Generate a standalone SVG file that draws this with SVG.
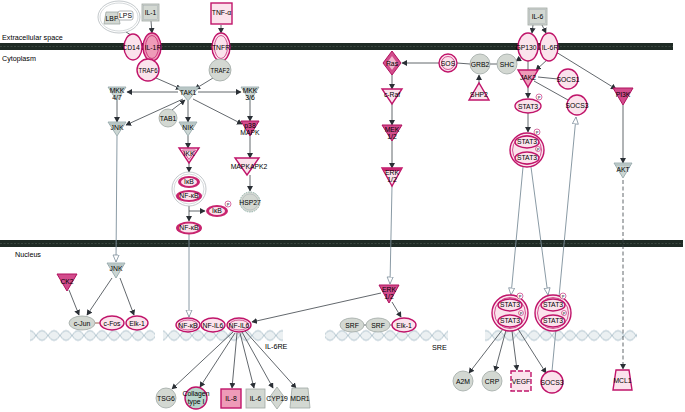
<svg xmlns="http://www.w3.org/2000/svg" width="685" height="412" viewBox="0 0 685 412">
<defs>
<style>
text{font-family:"Liberation Sans",Arial,sans-serif;font-size:6.8px;fill:#000;text-anchor:middle}
.lab{font-size:7.2px;text-anchor:start}
.m{fill:#fbe3ec;stroke:#c0146a;stroke-width:1.4}
.mi{fill:none;stroke:#c0146a;stroke-width:0.7}
.md{fill:#ee9bb8;stroke:#c0146a;stroke-width:1.4}
.mk{fill:#d24c8c;stroke:#b0105e;stroke-width:1}
.g{fill:#d3d8d2;stroke:#a0a8a4;stroke-width:0.8}
.tl{fill:#cbd6d3;stroke:#8ea2a6;stroke-width:0.8}
.band{fill:none;stroke:#8ea2a6;stroke-width:0.6}
.ring{fill:#fff;stroke:#a9b0b4;stroke-width:0.7}
.ringi{fill:none;stroke:#a9b0b4;stroke-width:0.5}
.e{fill:none;stroke:#3b4148;stroke-width:0.8}
.ea{marker-end:url(#ah)}
.eo{fill:none;stroke:#7d8e9b;stroke-width:0.9;marker-end:url(#oh)}
.mem{fill:#1f2b25}
.memi{fill:none;stroke:#4d5a52;stroke-width:0.6;stroke-dasharray:2 1.5}
.p{fill:#fff;stroke:#c0146a;stroke-width:0.6}
.pt{font-size:4px}
</style>
<marker id="ah" markerWidth="6" markerHeight="6" refX="5" refY="3" orient="auto" markerUnits="userSpaceOnUse"><path d="M0,0 L5.5,3 L0,6 z" fill="#2a2f35"/></marker>
<marker id="oh" markerWidth="9" markerHeight="8" refX="7.5" refY="3.5" orient="auto" markerUnits="userSpaceOnUse"><path d="M0.5,0.5 L7.5,3.5 L0.5,6.5 z" fill="#fff" stroke="#7d8e9b" stroke-width="0.8"/></marker>
<pattern id="dna" patternUnits="userSpaceOnUse" x="0" y="328.5" width="24" height="14">
<path d="M2 4.5v5M4 2.7v8.6M6 2v10M8 2.7v8.6M10 4.5v5M14 4.5v5M16 2.7v8.6M18 2v10M20 2.7v8.6M22 4.5v5" stroke="#bccdd4" stroke-width="0.6"/>
<path d="M0 7Q6 -3 12 7T24 7M0 7Q6 17 12 7T24 7" fill="none" stroke="#9db5c1" stroke-width="0.8"/>
</pattern>
</defs>
<rect width="685" height="412" fill="#fff"/>

<g id="compartments">
<rect class="mem" x="0" y="43" width="673" height="7"/>
<line class="memi" x1="0" y1="46.5" x2="673" y2="46.5"/>
<rect class="mem" x="0" y="240" width="683" height="7"/>
<line class="memi" x1="0" y1="243.5" x2="683" y2="243.5"/>
<text class="lab" x="2" y="40">Extracellular space</text>
<text class="lab" x="2" y="61">Cytoplasm</text>
<text class="lab" x="15" y="257">Nucleus</text>
<rect x="30" y="328.5" width="125" height="14" fill="url(#dna)"/>
<rect x="163" y="328.5" width="120" height="14" fill="url(#dna)"/>
<rect x="325" y="328.5" width="123" height="14" fill="url(#dna)"/>
<rect x="485" y="328.5" width="152" height="14" fill="url(#dna)"/>
<text class="lab" x="265" y="349">IL-6RE</text>
<text class="lab" x="432" y="350">SRE</text>
</g>

<g id="connectors">
<line class="e" x1="126" y1="32" x2="131" y2="35"/>
<line class="e ea" x1="151" y1="21" x2="152" y2="33"/>
<line class="e ea" x1="221" y1="25" x2="221" y2="33"/>
<line class="e ea" x1="156" y1="78" x2="181" y2="89"/>
<line class="e ea" x1="213" y1="78" x2="195" y2="89"/>
<line class="e ea" x1="178" y1="92" x2="127" y2="92"/>
<line class="e ea" x1="198" y1="92" x2="241" y2="92"/>
<line class="e ea" x1="117" y1="101" x2="117" y2="122"/>
<line class="e ea" x1="250" y1="101" x2="250" y2="121"/>
<line class="e ea" x1="183" y1="99" x2="126" y2="125"/>
<line class="e ea" x1="172" y1="110" x2="185" y2="100"/>
<line class="e ea" x1="188" y1="101" x2="188" y2="122"/>
<line class="e ea" x1="193" y1="99" x2="242" y2="124"/>
<line class="e ea" x1="188" y1="136" x2="188" y2="148"/>
<line class="e ea" x1="189" y1="163" x2="189" y2="172"/>
<line class="e ea" x1="189" y1="205" x2="189" y2="221"/>
<polyline class="e ea" points="189,211 205,211"/>
<line class="e ea" x1="250" y1="136" x2="250" y2="158"/>
<line class="e ea" x1="250" y1="175" x2="250" y2="191"/>
<line class="eo" x1="189" y1="234" x2="189" y2="317"/>
<line class="eo" x1="117" y1="136" x2="116" y2="262"/>
<line class="e ea" x1="112" y1="278" x2="87" y2="315"/>
<line class="e ea" x1="120" y1="278" x2="134" y2="315"/>
<line class="e ea" x1="69" y1="290" x2="79" y2="315"/>
<line x1="95" y1="323" x2="100" y2="323" stroke="#a0584a" stroke-width="1"/>
<line class="e ea" x1="439" y1="63" x2="402" y2="63"/>
<line class="e" x1="457" y1="63" x2="470" y2="64"/>
<line class="e" x1="490" y1="64" x2="497" y2="64"/>
<line class="e ea" x1="479" y1="86" x2="479" y2="75"/>
<line class="e ea" x1="524" y1="56" x2="516" y2="61"/>
<line class="e ea" x1="392" y1="75" x2="392" y2="89"/>
<line class="e ea" x1="392" y1="104" x2="392" y2="125"/>
<line class="e ea" x1="392" y1="141" x2="392" y2="168"/>
<line class="eo" x1="392" y1="186" x2="390" y2="284"/>
<line class="e ea" x1="392" y1="302" x2="401" y2="317"/>
<line class="e ea" x1="381" y1="293" x2="252" y2="322"/>
<line class="e" x1="364" y1="325" x2="366" y2="325"/>
<line class="e" x1="390" y1="325" x2="392" y2="325"/>
<line class="e ea" x1="233" y1="332" x2="172" y2="389"/>
<line class="e ea" x1="235" y1="333" x2="200" y2="387"/>
<line class="e ea" x1="237" y1="333" x2="232" y2="388"/>
<line class="e ea" x1="240" y1="333" x2="254" y2="388"/>
<line class="e ea" x1="242" y1="332" x2="273" y2="388"/>
<line class="e ea" x1="245" y1="331" x2="296" y2="388"/>
<line class="e ea" x1="533" y1="25" x2="532" y2="33"/>
<line class="e ea" x1="542" y1="25" x2="546" y2="33"/>
<line class="e" x1="528" y1="61" x2="528" y2="70"/>
<line class="e ea" x1="548" y1="59" x2="536" y2="70"/>
<line class="e" x1="538" y1="77" x2="558" y2="79"/>
<line class="e" x1="534" y1="81" x2="568" y2="100"/>
<line class="e ea" x1="528" y1="87" x2="528" y2="98"/>
<line class="e ea" x1="528" y1="113" x2="528" y2="132"/>
<line class="eo" x1="523" y1="167" x2="511" y2="295"/>
<line class="eo" x1="531" y1="167" x2="548" y2="295"/>
<line class="eo" x1="552" y1="371" x2="576" y2="117"/>
<line class="e ea" x1="503" y1="329" x2="469" y2="373"/>
<line class="e ea" x1="506" y1="330" x2="495" y2="371"/>
<line class="e ea" x1="512" y1="331" x2="517" y2="370"/>
<line class="e ea" x1="518" y1="329" x2="546" y2="373"/>
<line class="e ea" x1="556" y1="52" x2="616" y2="89"/>
<line class="e ea" x1="623" y1="105" x2="623" y2="163"/>
<line class="e ea" x1="623" y1="180" x2="623" y2="369" stroke-dasharray="4 2.5"/>
</g>

<g id="LBP_LPS">
<ellipse class="ring" cx="119" cy="17" rx="21" ry="16"/>
<ellipse class="ringi" cx="119" cy="17" rx="19" ry="14"/>
<path class="g" d="M106 12H118L120 24H104Z"/><text x="112" y="21">LBP</text>
<rect x="118" y="11" width="15" height="9" rx="2" fill="#fff" stroke="#8a9094" stroke-width="0.7"/><text x="125.5" y="18">LPS</text>
</g>
<g id="IL1"><rect class="g" x="142" y="4" width="17" height="17"/><rect class="ringi" x="143.5" y="5.5" width="14" height="14"/><text x="150.5" y="15">IL-1</text></g>
<g id="TNFa"><rect class="m" x="211" y="3" width="21" height="21"/><text x="221.5" y="15">TNF-α</text></g>
<g id="CD14"><ellipse class="m" cx="133" cy="47" rx="9" ry="13"/><text x="131" y="49.5">CD14</text></g>
<g id="IL1R"><ellipse class="md" cx="152" cy="47" rx="9" ry="14"/><ellipse class="mi" cx="152" cy="47" rx="6.5" ry="11.5"/><text x="153" y="49.5">IL-1R</text></g>
<g id="TNFR"><ellipse class="m" cx="221" cy="47" rx="9" ry="14"/><ellipse class="mi" cx="221" cy="47" rx="6.5" ry="11.5"/><text x="221" y="49.5">TNFR</text></g>
<g id="TRAF6"><circle class="m" cx="148" cy="70" r="11"/><text x="148" y="72.5" textLength="19" lengthAdjust="spacingAndGlyphs">TRAF6</text></g>
<g id="TRAF2"><circle class="g" cx="220" cy="70" r="11"/><text x="220" y="72.5" textLength="19" lengthAdjust="spacingAndGlyphs">TRAF2</text></g>
<g id="TAK1"><path class="tl" d="M177 87H199L188 101Z"/><path class="band" d="M178.5 89H197.5"/><text x="188" y="95">TAK1</text></g>
<g id="MKK47"><path class="tl" d="M108 87H126L117 101Z"/><path class="band" d="M109.5 89H124.5"/><text x="117" y="93">MKK</text><text x="117" y="99.5">4/7</text></g>
<g id="MKK36"><path class="tl" d="M241 87H259L250 101Z"/><path class="band" d="M242.5 89H257.5"/><text x="250" y="93">MKK</text><text x="250" y="99.5">3/6</text></g>
<g id="TAB1"><circle class="g" cx="168" cy="118" r="9"/><text x="168" y="120.5">TAB1</text></g>
<g id="JNK_c"><path class="tl" d="M108 122H126L117 136Z"/><path class="band" d="M109.5 124H124.5"/><text x="117" y="130">JNK</text></g>
<g id="NIK"><path class="tl" d="M179 122H197L188 136Z"/><path class="band" d="M180.5 124H195.5"/><text x="188" y="130">NIK</text></g>
<g id="p38MAPK"><path class="mk" d="M241 121H259L250 136Z"/><text x="250" y="127.5">p38</text><text x="250" y="135">MAPK</text></g>
<g id="IKK"><path class="m" d="M179 148H199L189 163Z"/><path class="mi" d="M182.5 150H195.5L189 159.5Z"/><text x="189" y="156">IKK</text></g>
<g id="IkB_NFkB">
<circle class="ring" cx="189" cy="189" r="17"/><circle class="ringi" cx="189" cy="189" r="15"/>
<ellipse cx="189" cy="182" rx="11" ry="6" fill="#c8246f"/><ellipse cx="189" cy="182" rx="8" ry="4" fill="#fbe3ec"/><text x="189" y="184.3">IκB</text>
<ellipse cx="189" cy="196" rx="13" ry="6" fill="#c8246f"/><ellipse cx="189" cy="196" rx="10" ry="4" fill="#fbe3ec"/><text x="189" y="198.3">NF-κB</text>
</g>
<g id="IkB_P"><ellipse cx="217" cy="211" rx="11" ry="6" fill="#c8246f"/><ellipse cx="217" cy="211" rx="8" ry="4" fill="#fbe3ec"/><text x="217" y="213.3">IκB</text><circle class="p" cx="228" cy="204" r="3"/><text class="pt" x="228" y="205.5">P</text></g>
<g id="NFkB_c"><ellipse cx="189" cy="228" rx="13" ry="6.5" fill="#c8246f"/><ellipse cx="189" cy="228" rx="10" ry="4.5" fill="#fbe3ec"/><text x="189" y="230.3">NF-κB</text></g>
<g id="MAPKAPK2"><path class="m" d="M235 158H259L247 175Z"/><text x="249" y="168.5">MAPKAPK2</text></g>
<g id="HSP27"><circle cx="250" cy="202" r="10" fill="#d3d8d2" stroke="#8fb0a8" stroke-width="1" stroke-dasharray="1.5 1"/><circle class="ringi" cx="250" cy="202" r="8"/><text x="250" y="204.5">HSP27</text></g>

<g id="Ras"><path class="mk" d="M392 51L401 63L392 75L383 63Z"/><path d="M392 56L397 63L392 70L387 63Z" fill="#f3b8cf"/><text x="392" y="65.5">Ras</text></g>
<g id="SOS"><circle class="m" cx="448" cy="63" r="9"/><circle class="mi" cx="448" cy="63" r="6.5"/><text x="448" y="65.5">SOS</text></g>
<g id="GRB2"><circle class="g" cx="480" cy="64" r="10"/><text x="480" y="66.5">GRB2</text></g>
<g id="SHC"><circle class="g" cx="507" cy="64" r="10"/><text x="507" y="66.5">SHC</text></g>
<g id="SHP2"><path class="m" d="M469 100H489L479 83Z"/><text x="479" y="97">SHP2</text></g>
<g id="cRaf"><path class="m" d="M382 89H402L392 104Z"/><text x="392" y="97">c-Raf</text></g>
<g id="MEK12"><path class="mk" d="M382 125H402L392 141Z"/><text x="392" y="131.5">MEK</text><text x="392" y="138.5">1/2</text></g>
<g id="ERK12_c"><path class="m" d="M382 168H402L392 186Z" stroke-width="1.8"/><path d="M382 168H402L400.3 171H383.7Z" fill="#c8246f"/><text x="392" y="175">ERK</text><text x="392" y="182">1/2</text></g>

<g id="IL6"><rect class="g" x="528" y="8" width="19" height="17"/><rect class="ringi" x="529.5" y="9.5" width="16" height="14"/><text x="537.5" y="19">IL-6</text></g>
<g id="GP130"><ellipse class="m" cx="528" cy="47" rx="10" ry="14"/><text x="526" y="49.5">GP130</text></g>
<g id="IL6R"><ellipse class="m" cx="549" cy="47" rx="9" ry="14"/><text x="550" y="49.5">IL-6R</text></g>
<g id="JAK2"><path class="md" d="M518 70H538L528 87Z"/><text x="528" y="80">JAK2</text></g>
<g id="SOCS1"><circle class="m" cx="568" cy="79" r="10"/><text x="568" y="81.5">SOCS1</text></g>
<g id="SOCS3_c"><circle class="m" cx="577" cy="105" r="10"/><text x="577" y="107.5">SOCS3</text></g>
<g id="STAT3"><ellipse class="m" cx="528" cy="106" rx="13" ry="7"/><text x="528" y="108.5">STAT3</text><circle class="p" cx="539" cy="97" r="3"/><text class="pt" x="539" y="98.5">P</text></g>
<g id="STAT3dimer_c">
<circle class="m" cx="527" cy="150" r="17"/><circle class="mi" cx="527" cy="150" r="14.5"/>
<ellipse class="m" cx="527" cy="142" rx="12" ry="6"/><text x="527" y="144.3">STAT3</text>
<ellipse class="m" cx="527" cy="158" rx="12" ry="6"/><text x="527" y="160.3">STAT3</text>
<circle class="p" cx="537" cy="132" r="3"/><text class="pt" x="537" y="133.5">P</text>
<circle class="p" cx="538" cy="149" r="2.5"/><text class="pt" x="538" y="150.5">P</text>
</g>
<g id="PI3K"><path class="mk" d="M613 88H633L623 105Z" fill="#c21a6c"/><text x="623" y="97">PI3K</text></g>
<g id="AKT"><path class="tl" d="M614 163H632L623 178Z"/><path class="band" d="M615.5 165H630.5"/><text x="623" y="172">AKT</text></g>

<g id="JNK_n"><path class="tl" d="M107 263H125L116 278Z"/><path class="band" d="M108.5 265H123.5"/><text x="116" y="271">JNK</text></g>
<g id="CK2"><path class="mk" d="M57 274H77L67 291Z"/><text x="67" y="284">CK2</text></g>
<g id="cJun"><ellipse class="g" cx="82" cy="323" rx="13" ry="7"/><text x="82" y="325.5">c-Jun</text></g>
<g id="cFos"><ellipse class="m" cx="112" cy="323" rx="12" ry="7"/><text x="112" y="325.5">c-Fos</text></g>
<g id="Elk1_a"><ellipse class="m" cx="137" cy="323" rx="11" ry="7"/><text x="137" y="325.5">Elk-1</text></g>

<g id="NFkB_n"><ellipse class="m" cx="188" cy="325" rx="12" ry="7"/><ellipse class="mi" cx="188" cy="325" rx="9.5" ry="5"/><text x="188" y="327.5">NF-κB</text></g>
<g id="NFIL6_a"><ellipse class="m" cx="213" cy="325" rx="12" ry="7"/><text x="213" y="327.5">NF-IL6</text></g>
<g id="NFIL6_b"><ellipse class="m" cx="239" cy="325" rx="12" ry="7"/><ellipse class="mi" cx="239" cy="325" rx="9.5" ry="5"/><text x="239" y="327.5">NF-IL6</text></g>
<g id="TSG6"><circle class="g" cx="166" cy="398" r="10"/><text x="166" y="400.5">TSG6</text></g>
<g id="Collagen"><circle cx="196" cy="398" r="11" fill="#b9d6cc" stroke="#c0146a" stroke-width="1.4"/><text x="196" y="396">Collagen</text><text x="196" y="404">type I</text></g>
<g id="IL8"><rect class="md" x="221" y="389" width="20" height="19"/><text x="231" y="400.5">IL-8</text></g>
<g id="IL6_t"><rect class="g" x="246" y="389" width="19" height="19"/><text x="255.5" y="400.5">IL-6</text></g>
<g id="CYP19"><path class="g" d="M277 387L285 398L277 409L269 398Z"/><text x="277" y="400.5">CYP19</text></g>
<g id="MDR1"><path class="g" d="M292 388H308L310 408H290Z"/><text x="300" y="400.5">MDR1</text></g>

<g id="ERK12_n"><path class="mk" d="M379 285H399L389 303Z"/><text x="389" y="292">ERK</text><text x="389" y="299">1/2</text></g>
<g id="SRF_a"><ellipse class="g" cx="352" cy="325" rx="12" ry="7"/><text x="352" y="327.5">SRF</text></g>
<g id="SRF_b"><ellipse class="g" cx="378" cy="325" rx="12" ry="7"/><text x="378" y="327.5">SRF</text></g>
<g id="Elk1_b"><ellipse class="m" cx="404" cy="325" rx="12" ry="7"/><text x="404" y="327.5">Elk-1</text></g>

<g id="STAT3dimer_n1">
<circle class="m" cx="510" cy="313" r="18"/><circle class="mi" cx="510" cy="313" r="15.5"/>
<ellipse class="m" cx="510" cy="305" rx="12" ry="6"/><text x="510" y="307.3">STAT3</text>
<ellipse class="m" cx="510" cy="321" rx="12" ry="6"/><text x="510" y="323.3">STAT3</text>
<circle class="p" cx="520" cy="296" r="3"/><text class="pt" x="520" y="297.5">P</text>
<circle class="p" cx="521" cy="313" r="2.5"/><text class="pt" x="521" y="314.5">P</text>
</g>
<g id="STAT3dimer_n2">
<circle class="m" cx="553" cy="313" r="18"/><circle class="mi" cx="553" cy="313" r="15.5"/>
<ellipse class="m" cx="553" cy="305" rx="12" ry="6"/><text x="553" y="307.3">STAT3</text>
<ellipse class="m" cx="553" cy="321" rx="12" ry="6"/><text x="553" y="323.3">STAT3</text>
<circle class="p" cx="563" cy="296" r="3"/><text class="pt" x="563" y="297.5">P</text>
<circle class="p" cx="564" cy="313" r="2.5"/><text class="pt" x="564" y="314.5">P</text>
</g>
<g id="A2M"><circle class="g" cx="463" cy="381" r="10"/><text x="463" y="383.5">A2M</text></g>
<g id="CRP"><circle class="g" cx="492" cy="381" r="10"/><text x="492" y="383.5">CRP</text></g>
<g id="VEGF"><rect class="m" x="511" y="371" width="20" height="20" stroke-dasharray="5 2"/><text x="521" y="383.5">VEGF</text></g>
<g id="SOCS3_n"><circle class="m" cx="552" cy="382" r="11"/><text x="552" y="384.5">SOCS3</text></g>
<g id="MCL1"><path class="m" d="M616 370H629L632 390H613Z"/><text x="622.5" y="383">MCL1</text></g>
</svg>
